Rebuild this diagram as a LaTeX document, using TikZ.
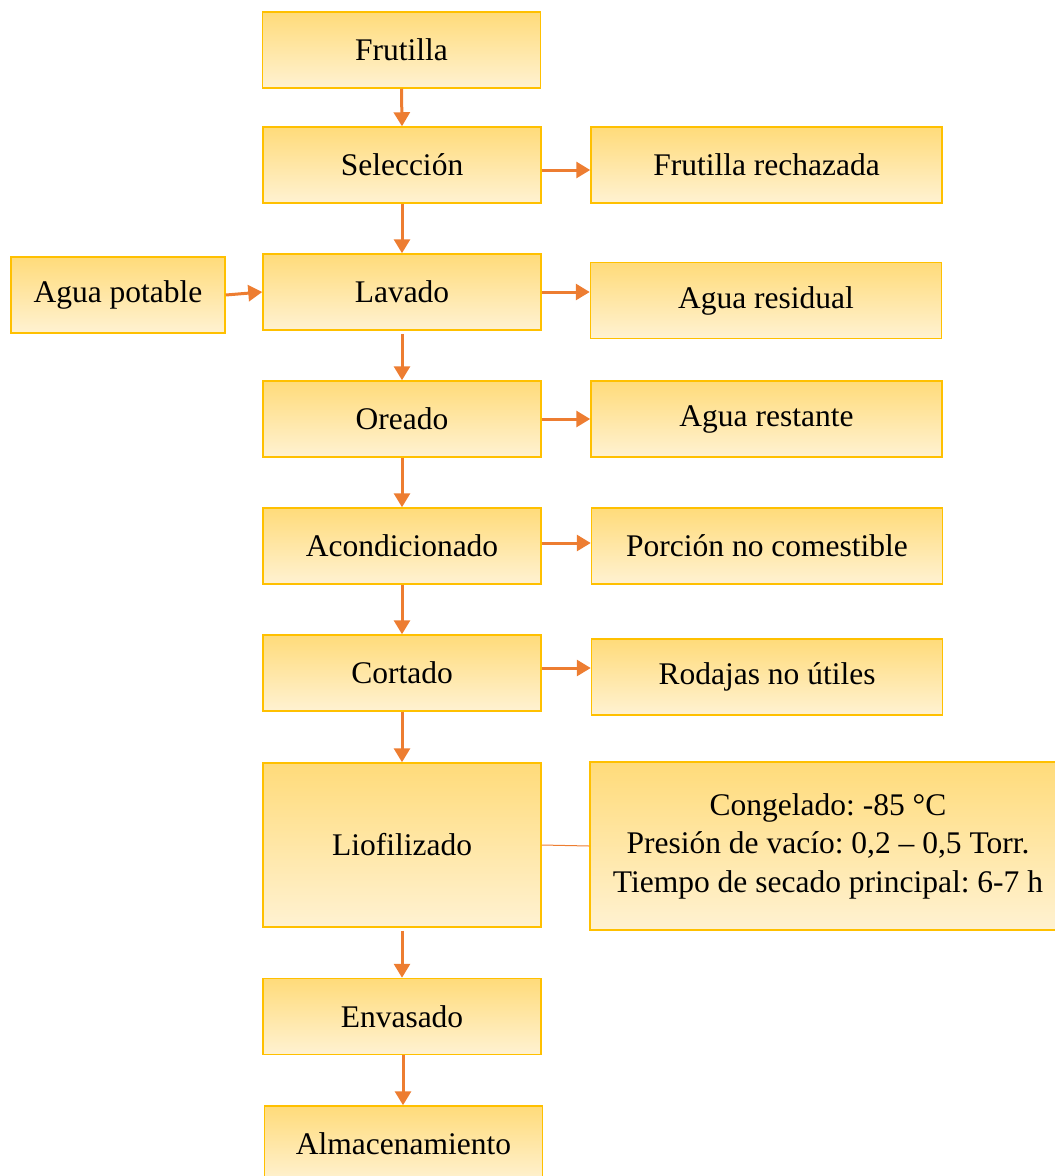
\documentclass[tikz,border=0pt]{standalone}
\usepackage{fontspec}
\setmainfont{Liberation Serif}
\frenchspacing
\usetikzlibrary{arrows.meta,calc}
\definecolor{BoxTopClr}{RGB}{255,219,122}
\definecolor{BoxBotClr}{RGB}{255,242,210}
\definecolor{BoxLineClr}{RGB}{255,192,0}
\definecolor{ArrowClr}{RGB}{237,125,49}

\begin{document}
\begin{tikzpicture}[x=1pt,y=-1pt,
  box/.style={draw=BoxLineClr,line width=1.5pt,top color=BoxTopClr,bottom color=BoxBotClr,
    minimum width=278pt,minimum height=76pt,inner sep=0pt,align=center,
    font=\fontsize{31.5}{38.5}\selectfont},
  sidebox/.style={box,minimum width=351pt},
  flow/.style={draw=ArrowClr,line width=3pt,-{Triangle[length=14pt,width=16pt]}}]
\useasboundingbox (0,0) rectangle (1055,1176);

\node[box] (frutilla) at (401.5,50) {Frutilla};
\node[box] (seleccion) at (402,165) {Selección};
\node[sidebox] (rechazada) at (766.5,165) {Frutilla rechazada};
\node[box,minimum width=214pt] (agua) at (118,295) {Agua potable};
\node[box] (lavado) at (402,292) {Lavado};
\node[sidebox] (residual) at (766,300.5) {Agua residual};
\node[box] (oreado) at (402,419) {Oreado};
\node[sidebox] (restante) at (766.5,419) {Agua restante};
\node[box] (acond) at (402,546) {Acondicionado};
\node[sidebox] (porcion) at (767,546) {Porción no comestible};
\node[box] (cortado) at (402,673) {Cortado};
\node[sidebox] (rodajas) at (767,677) {Rodajas no útiles};
\node[box,minimum height=164pt] (liof) at (402,845) {Liofilizado};
\node[box,minimum width=476pt,minimum height=168pt] (cond) at (828,846)
  {\raisebox{-3pt}{\parbox{470pt}{\centering Congelado: -85 °C\\Presión de vacío: 0,2 – 0,5 Torr.\\Tiempo de secado principal: 6-7 h}}};
\node[box] (envasado) at (402,1016.5) {Envasado};
\node[box] (almac) at (403.5,1144) {Almacenamiento};

% main line
\draw[flow] (frutilla.south) -- (seleccion.north);
\draw[flow] (seleccion.south) -- (lavado.north);
\draw[flow] ([yshift=-3pt]lavado.south) -- (oreado.north);
\draw[flow] (oreado.south) -- (acond.north);
\draw[flow] (acond.south) -- (cortado.north);
\draw[flow] (cortado.south) -- (liof.north);
\draw[flow] ([yshift=-3pt]liof.south) -- (envasado.north);
\draw[flow] ([xshift=1pt]envasado.south) -- ([xshift=-0.5pt]almac.north);

% side streams
\draw[flow] ([yshift=-5pt]seleccion.east) -- ([yshift=-5pt]rechazada.west);
\draw[flow] (agua.east) -- (lavado.west);
\draw[flow] (lavado.east) -- (lavado.east -| residual.west);
\draw[flow] (oreado.east) -- (restante.west);
\draw[flow] ([yshift=3pt]acond.east) -- ([yshift=3pt]porcion.west);
\draw[flow] ([yshift=5pt]cortado.east) -- ([yshift=5pt]cortado.east -| rodajas.west);
\draw[ArrowClr,line width=1pt] (liof.east) -- (cond.west);

\end{tikzpicture}
\end{document}
